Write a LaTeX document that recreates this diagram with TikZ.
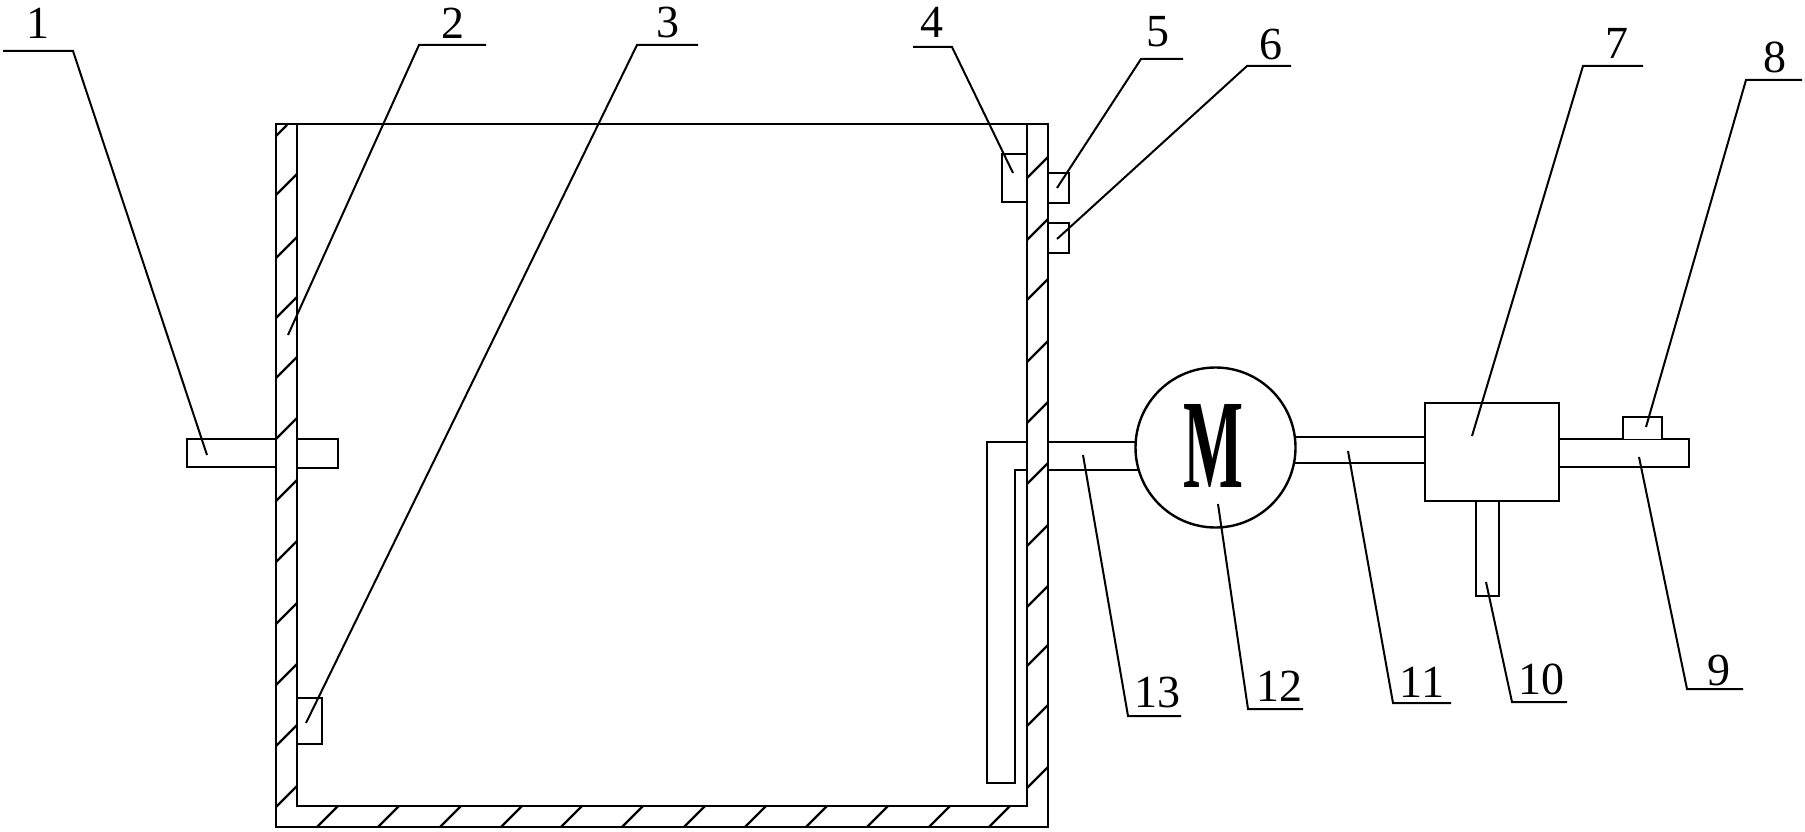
\documentclass[tikz,border=0pt]{standalone}
\usepackage{fontspec}
\usepackage{graphicx}
\setmainfont{Liberation Serif}
\tikzset{
  x=1pt,y=-1pt,
  wall/.style={line width=2.8pt,line cap=rect,line join=miter},
  part/.style={line width=2.6pt,line join=miter,fill=white},
  hatch/.style={line width=2.4pt},
  leader/.style={line width=2pt},
  num/.style={inner sep=0pt,font=\fontsize{46}{46}\selectfont}
}
\begin{document}
\begin{tikzpicture}
\useasboundingbox (0,0) rectangle (1805,832);
% hatching
\foreach \y in {174,237,297,357,418,480,541,603,664,725,786}
  \draw[hatch] (297,\y) -- (276,\y+21);
\draw[hatch] (287,125) -- (276,136);
\foreach \y in {157,219,279,341,402,463,525,586,645,705,767}
  \draw[hatch] (1048,\y) -- (1027,\y+21);
\foreach \x in {338,399,461,522,582,643,705,766,827,888,950,1010}
  \draw[hatch] (\x,806) -- (\x-21,827);
% shafts and small parts
\draw[part] (276,439) -- (187,439) -- (187,467) -- (276,467);
\draw[part] (297,439) -- (338,439) -- (338,468) -- (297,468);
\draw[part] (297,698) -- (322,698) -- (322,744) -- (297,744);
\draw[part] (1027,154) -- (1002,154) -- (1002,202) -- (1027,202);
\draw[part] (1048,173) -- (1069,173) -- (1069,203) -- (1048,203);
\draw[part] (1048,223) -- (1069,223) -- (1069,253) -- (1048,253);
\draw[part] (1027,442) -- (987,442) -- (987,783) -- (1015,783) -- (1015,470) -- (1027,470);
\draw[part] (1048,442) -- (1140,442);
\draw[part] (1048,470) -- (1140,470);
\draw[part] (1290,437) -- (1425,437);
\draw[part] (1290,463) -- (1425,463);
\draw[part] (1559,439) -- (1689,439) -- (1689,467) -- (1559,467);
\draw[part] (1623,439) -- (1623,417) -- (1662,417) -- (1662,439);
\draw[part] (1476,501) -- (1476,596) -- (1499,596) -- (1499,501);
\draw[part] (1425,403) rectangle (1559,501);
% motor
\node (motor) at (1215.5,447.5) [circle,draw,line width=2.4pt,fill=white,minimum size=160pt,inner sep=0pt] {};
\node (motorM) at (1213,445.5) [inner sep=0pt] {\resizebox{60pt}{83pt}{\textbf{M}}};
% walls
\draw[wall] (276,124) rectangle (1048,827);
\draw[wall] (297,124) -- (297,806) -- (1027,806) -- (1027,124);
% leaders
\coordinate (a1) at (3,51);    \coordinate (k1) at (73,51);   \coordinate (e1) at (207,455);
\coordinate (a2) at (486,45);  \coordinate (k2) at (419,45);  \coordinate (e2) at (288,335);
\coordinate (a3) at (698,45);  \coordinate (k3) at (637,45);  \coordinate (e3) at (306,723);
\coordinate (a4) at (913,47);  \coordinate (k4) at (952,47);  \coordinate (e4) at (1013,173);
\coordinate (a5) at (1183,59); \coordinate (k5) at (1141,59); \coordinate (e5) at (1057,188);
\coordinate (a6) at (1291,66); \coordinate (k6) at (1247,66); \coordinate (e6) at (1057,239);
\coordinate (a7) at (1643,66); \coordinate (k7) at (1583,66); \coordinate (e7) at (1472,436);
\coordinate (a8) at (1802,80); \coordinate (k8) at (1746,80); \coordinate (e8) at (1646,427);
\coordinate (a9) at (1743,689);\coordinate (k9) at (1687,689);\coordinate (e9) at (1639,457);
\coordinate (a10) at (1567,702);\coordinate (k10) at (1512,702);\coordinate (e10) at (1486,582);
\coordinate (a11) at (1451,703);\coordinate (k11) at (1393,703);\coordinate (e11) at (1348,451);
\coordinate (a12) at (1303,709);\coordinate (k12) at (1248,709);\coordinate (e12) at (1218,504);
\coordinate (a13) at (1181,716);\coordinate (k13) at (1128,716);\coordinate (e13) at (1083,455);
\foreach \i in {1,...,13}
  \draw[leader] (a\i) -- (k\i) -- (e\i);
% numbers
\node[num] (n1) at (37.5,23) {1};
\node[num] (n2) at (453,23) {2};
\node[num] (n3) at (668,22) {3};
\node[num] (n4) at (932,22) {4};
\node[num] (n5) at (1158,32) {5};
\node[num] (n6) at (1271,44) {6};
\node[num] (n7) at (1617,43) {7};
\node[num] (n8) at (1775,57) {8};
\node[num] (n9) at (1719,670) {9};
\node[num] (n10) at (1541,679) {10};
\node[num] (n11) at (1422,682) {11};
\node[num] (n12) at (1279,686) {12};
\node[num] (n13) at (1157,692) {13};
\end{tikzpicture}
\end{document}
